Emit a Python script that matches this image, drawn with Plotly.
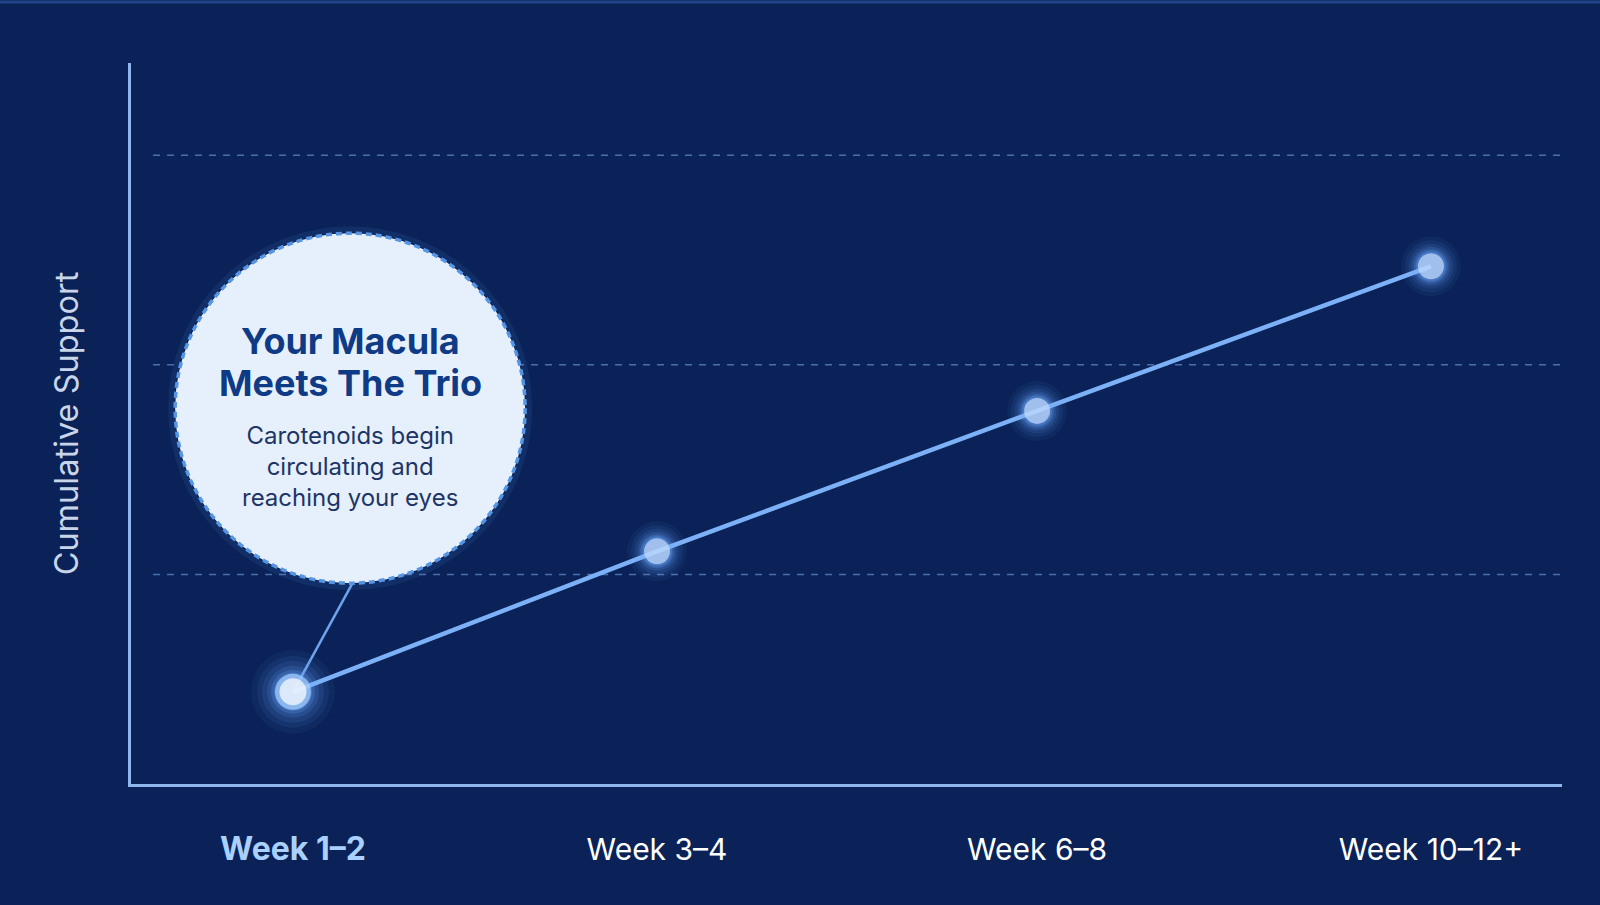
import plotly.graph_objects as go

# ---- data ----
categories = ["Week 1–2", "Week 3–4", "Week 6–8", "Week 10–12+"]
x_pos = [0.0, 1.0, 2.044, 3.126]          # horizontal placement
support = [0.44, 1.11, 1.78, 2.47]        # cumulative support
grid_vals = [1, 2, 3]

callout_title = ["Your Macula", "Meets The Trio"]
callout_body = "Carotenoids begin<br>circulating and<br>reaching your eyes"

BG = "#0a2257"
LINE = "#7cb1f7"
AXIS = "#8fb5ef"

fig = go.Figure()

# soft glow layers (first point glows stronger)
glow = [(84, 60, 0.06), (72, 52, 0.08), (62, 45, 0.11), (52, 39, 0.15), (44, 34, 0.22), (38, 30, 0.32)]
for big, small, op in glow:
    fig.add_trace(go.Scatter(
        x=x_pos, y=support, mode="markers",
        marker=dict(size=[big] + [small] * (len(x_pos) - 1), color="#6aa8ff",
                    opacity=op, line=dict(width=0)),
        hoverinfo="skip", showlegend=False))

fig.add_trace(go.Scatter(
    x=x_pos, y=support, mode="lines",
    line=dict(color=LINE, width=4.5), hoverinfo="skip", showlegend=False))

fig.add_trace(go.Scatter(
    x=x_pos[:1], y=support[:1], mode="markers",
    marker=dict(size=36, color="#a8d0ff", opacity=0.7, line=dict(width=0)),
    hoverinfo="skip", showlegend=False))

fig.add_trace(go.Scatter(
    x=x_pos, y=support, mode="markers",
    marker=dict(size=[27, 26, 26, 26],
                color=["#ffffff", "#c6defd", "#c6defd", "#c6defd"],
                line=dict(width=0)),
    showlegend=False))

# dashed grid lines (start slightly right of the y axis)
for g in grid_vals:
    fig.add_shape(type="line", xref="paper", yref="y",
                  x0=0.0154, x1=1.0, y0=g, y1=g,
                  line=dict(color="#4a6fae", width=1.5, dash="7px,7px"),
                  layer="below")

# callout
cx, cy = 0.157, 1.793
fig.add_shape(type="line", xref="x", yref="y",
              x0=x_pos[0], y0=support[0], x1=0.162, y1=0.954,
              line=dict(color="#6fa3ec", width=2.5), layer="below")
fig.add_shape(type="circle", xref="x", yref="y",
              xsizemode="pixel", ysizemode="pixel",
              xanchor=cx, yanchor=cy,
              x0=-179, x1=179, y0=-179, y1=179,
              fillcolor="rgba(0,0,0,0)",
              line=dict(color="rgba(93,159,242,0.10)", width=6), layer="above")
fig.add_shape(type="circle", xref="x", yref="y",
              xsizemode="pixel", ysizemode="pixel",
              xanchor=cx, yanchor=cy,
              x0=-175, x1=175, y0=-175, y1=175,
              fillcolor="#e6f0fc",
              line=dict(color="#5595e4", width=3.5, dash="6px,4px"), layer="above")

for line_text, shift in zip(callout_title, [67, 25]):
    fig.add_annotation(x=cx, y=cy, xref="x", yref="y", yshift=shift,
                       text="<b>" + line_text + "</b>", showarrow=False,
                       font=dict(family="Inter", size=36, color="#0e3a86"), align="center")
fig.add_annotation(x=cx, y=cy, xref="x", yref="y", yshift=-58,
                   text=callout_body, showarrow=False,
                   font=dict(family="Inter", size=24, color="#1d3566"), align="center")

# top border of card
fig.add_shape(type="line", xref="paper", yref="paper",
              x0=-0.1, x1=1.03, y0=1.0846, y1=1.0846,
              line=dict(color="#1f4488", width=3))

ticktext = ["<b><span style='color:#a9d0ff;font-size:32px'>" + categories[0] + "</span></b>"] + categories[1:]

fig.update_layout(
    width=1600, height=905,
    paper_bgcolor=BG, plot_bgcolor=BG,
    margin=dict(l=131, r=38, t=63, b=121),
    font=dict(family="Inter", color="#ffffff"),
    xaxis=dict(range=[-0.445, 3.486], showgrid=False, zeroline=False,
               showline=True, linecolor=AXIS, linewidth=2.5,
               tickvals=x_pos, ticktext=ticktext,
               ticks="outside", ticklen=37, tickcolor="rgba(0,0,0,0)",
               tickfont=dict(family="Inter", size=30, color="#ffffff")),
    yaxis=dict(range=[0, 3.44], showgrid=False, zeroline=False,
               showline=True, linecolor=AXIS, linewidth=2.5,
               showticklabels=False, ticks="",
               title=dict(text="Cumulative Support", standoff=40,
                          font=dict(family="Inter", size=32.5, color="#c9d6ea"))),
)

fig.write_html("out.html", config={"displayModeBar": False},
               post_script="document.body.style.margin='0';document.body.style.background='%s';" % BG)
